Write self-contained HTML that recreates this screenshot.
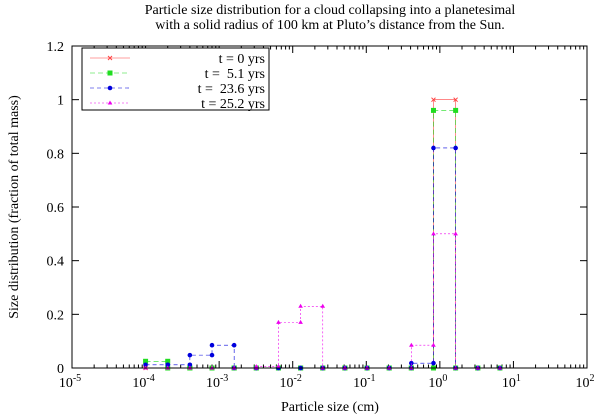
<!DOCTYPE html>
<html><head><meta charset="utf-8"><style>
body{margin:0;background:#fff;}
svg{display:block;}
text,tspan{font-family:"Liberation Serif","Times New Roman",Times,"DejaVu Serif",serif;}
</style></head><body>
<svg id="chart" width="600" height="416">
<text x="330" y="14" text-anchor="middle" font-size="14">Particle size distribution for a cloud collapsing into a planetesimal</text>
<text x="330" y="29" text-anchor="middle" font-size="14">with a solid radius of 100 km at Pluto’s distance from the Sun.</text>
<text transform="translate(18,207) rotate(-90)" text-anchor="middle" font-size="14">Size distribution (fraction of total mass)</text>
<text x="330" y="411" text-anchor="middle" font-size="14">Particle size (cm)</text>
<g id="axes"></g>
<g id="series"></g>
<g id="legend"></g>
<rect x="72" y="46" width="515" height="322" fill="none" stroke="#000" stroke-width="1"/>
</svg>
<script>
const xTickExps = [-5,-4,-3,-2,-1,0,1,2];
const yTicks = [0,0.2,0.4,0.6,0.8,1,1.2];
const yTickLabels = ["0","0.2","0.4","0.6","0.8","1","1.2"];
const binEdgeBase = 1e-4;
const seriesLabels = ["t = 0 yrs","t =  5.1 yrs","t =  23.6 yrs","t = 25.2 yrs"];
const valsT0 =   [0,0,0,0,0,0,0,0,0,0,0,0,0,1.0,0,0];
const valsT5 =   [0.025,0,0,0,0,0,0,0,0,0,0,0,0,0.96,0,0];
const valsT23 =  [0.012,0.012,0.048,0.085,0,0,0,0,0,0,0,0,0.018,0.82,0,0];
const valsT25 =  [0,0,0,0,0,0.005,0.17,0.23,0,0,0,0,0.085,0.5,0,0];

const L=72,R=587,T=46,B=368;
const xs=v=>L+(Math.log10(v)+5)/7*(R-L);
const ys=v=>B-v/1.2*(B-T);
const NS="http://www.w3.org/2000/svg";
function mk(tag,attrs,parent){const e=document.createElementNS(NS,tag);for(const k in attrs)e.setAttribute(k,attrs[k]);parent.appendChild(e);return e;}
const axes=document.getElementById('axes');
xTickExps.forEach(e=>{
  const x=xs(Math.pow(10,e));
  const g=mk('g',{},axes);
  
  
  mk('line',{x1:x,x2:x,y1:B,y2:B-7,stroke:'#000'},g);
  mk('line',{x1:x,x2:x,y1:T,y2:T+7,stroke:'#000'},g);
  if(e<2){for(let m=2;m<10;m++){const xm=xs(m*Math.pow(10,e));
    mk('line',{x1:xm,x2:xm,y1:B,y2:B-3.5,stroke:'#000'},g);
    mk('line',{x1:xm,x2:xm,y1:T,y2:T+3.5,stroke:'#000'},g);}}
  const t=mk('text',{x:x-2,y:B+19,'text-anchor':'middle','font-size':14},g);
  t.textContent='10';
  const s=mk('tspan',{dy:-6,'font-size':10},t);s.textContent=String(e);
});
yTicks.forEach((v,i)=>{
  const y=ys(v);
  const g=mk('g',{},axes);
  
  
  mk('line',{x1:L,x2:L+7,y1:y,y2:y,stroke:'#000'},g);
  mk('line',{x1:R,x2:R-7,y1:y,y2:y,stroke:'#000'},g);
  const t=mk('text',{x:L-8,y:y+5,'text-anchor':'end','font-size':14},g);
  t.textContent=yTickLabels[i];
});
const defs=[
 {vals:valsT0,color:'#ff4040',dash:'',mark:'x'},
 {vals:valsT5,color:'#20dd20',dash:'5,3',mark:'sq'},
 {vals:valsT23,color:'#0000dd',dash:'4,3',mark:'dot'},
 {vals:valsT25,color:'#ee00ee',dash:'2,2',mark:'tri'}];
function marker(g,x,y,d){
  if(d.mark==='x'){mk('path',{d:`M${x-2},${y-2}L${x+2},${y+2}M${x-2},${y+2}L${x+2},${y-2}`,stroke:d.color,'stroke-width':1},g);}
  else if(d.mark==='sq'){mk('rect',{x:x-2.5,y:y-2.5,width:5,height:5,fill:d.color},g);}
  else if(d.mark==='dot'){mk('circle',{cx:x,cy:y,r:2.3,fill:d.color},g);}
  else {mk('path',{d:`M${x},${y-2.5}L${x+2.3},${y+1.5}L${x-2.3},${y+1.5}Z`,fill:d.color},g);}
}
const series=document.getElementById('series');
defs.forEach((d,idx)=>{
  const g=mk('g',{},series);
  
  
  let p='';const pts=[];
  d.vals.forEach((v,k)=>{
    const x0=xs(binEdgeBase*Math.pow(2,k)),x1=xs(binEdgeBase*Math.pow(2,k+1)),y=ys(v);
    p+=(k===0?'M':'L')+x0+','+y+'L'+x1+','+y;
    pts.push([x0,y],[x1,y]);
  });
  mk('path',{d:p,fill:'none',stroke:d.color,'stroke-width':0.6,'stroke-dasharray':d.dash},g);
  pts.forEach(q=>marker(g,q[0],q[1],d));
});
const leg=document.getElementById('legend');
mk('rect',{x:82,y:48,width:187,height:62,fill:'#fff',stroke:'#000'},leg);
defs.forEach((d,i)=>{
  const y=58+i*15;
  const g=mk('g',{},leg);
  
  
  mk('line',{x1:90,x2:130,y1:y,y2:y,stroke:d.color,'stroke-width':0.6,'stroke-dasharray':d.dash},g);
  marker(g,110,y,d);
  const t=mk('text',{x:265,y:y+5,'text-anchor':'end','font-size':14},g);
  t.setAttribute('xml:space','preserve');
  t.style.whiteSpace='pre';
  t.textContent=seriesLabels[i];
});
</script>
</body></html>
